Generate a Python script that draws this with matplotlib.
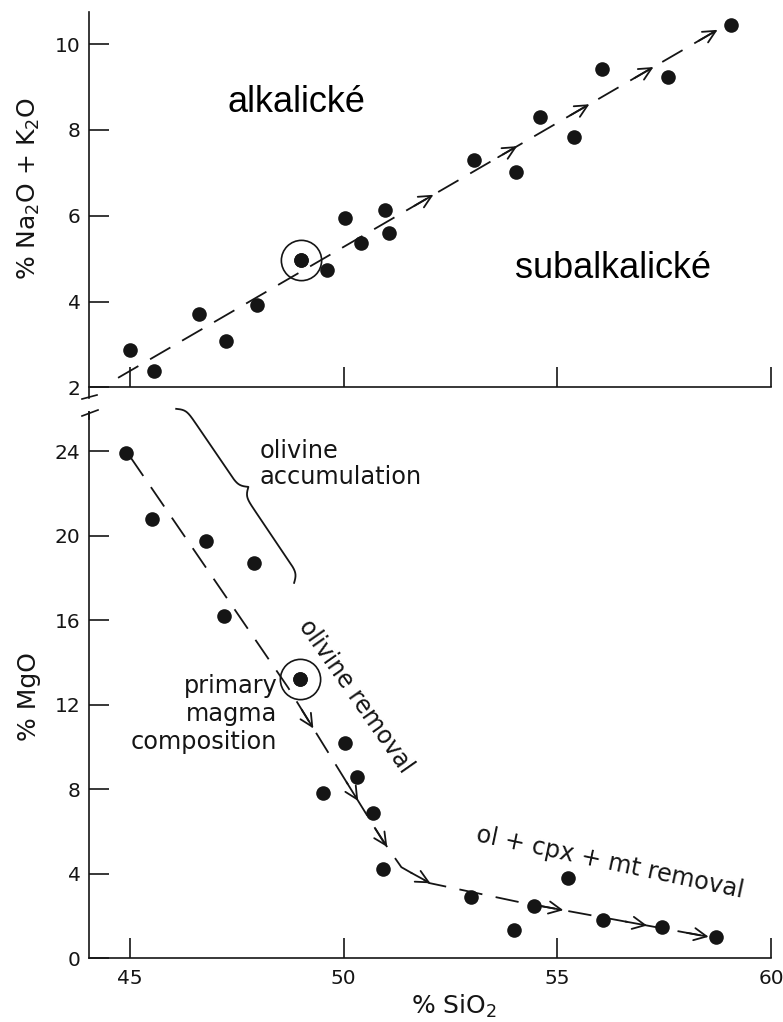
import numpy as np
import matplotlib
matplotlib.use('Agg')
import matplotlib.pyplot as plt
from matplotlib.lines import Line2D

# --- samples: SiO2 vs alkalis (upper) and SiO2 vs MgO (lower) ---
sio2_top = [45.0, 45.55, 46.62, 47.25, 47.97, 49.0, 49.62, 50.02, 50.41,
            50.96, 51.07, 53.04, 54.04, 54.59, 55.38, 56.05, 57.58, 59.07]
alkali = [2.86, 2.37, 3.70, 3.08, 3.93, 4.96, 4.73, 5.94, 5.37,
          6.13, 5.59, 7.30, 7.01, 8.31, 7.84, 9.41, 9.24, 10.45]

sio2_bot = [44.91, 45.52, 46.78, 47.91, 47.20, 48.97, 50.02, 50.31, 49.51,
            50.68, 50.93, 52.98, 54.45, 53.98, 55.26, 56.07, 57.45, 58.72]
mgo = [23.9, 20.8, 19.73, 18.7, 16.18, 13.22, 10.2, 8.56, 7.8,
       6.86, 4.2, 2.9, 2.46, 1.33, 3.78, 1.8, 1.45, 0.98]

# primary magma sample (circled in both panels)
primary_top = (49.0, 4.96)
primary_bot = (48.97, 13.22)

# differentiation trends and where the arrowheads sit
trend_top_x = [44.72, 58.95]
trend_top_y = [2.22, 10.45]
arrows_top_x = [52.1, 54.06, 55.75, 57.25, 58.75]

trend_bot_x = [45.0, 48.7, 50.9, 51.35, 52.0, 54.1, 58.55]
trend_bot_y = [23.74, 12.8, 5.6, 4.3, 3.55, 2.65, 1.0]
arrows_bot_x = [49.29, 50.34, 51.02, 52.03, 55.14, 57.1, 58.54]

ink = '#151515'
scan_font = 'DejaVu Sans'
plt.rcParams['font.family'] = scan_font
plt.rcParams['mathtext.fontset'] = 'custom'
plt.rcParams['mathtext.rm'] = scan_font

W, H = 783, 1022
fig = plt.figure(figsize=(W / 100, H / 100), dpi=100)
fig.patch.set_facecolor('white')

left = 89 / W
width = (771 - 89) / W
ax1 = fig.add_axes([left, (H - 398) / H, width, 386 / H])
ax2 = fig.add_axes([left, (H - 958) / H, width, 546 / H])

for ax in (ax1, ax2):
    ax.set_xlim(44.04, 60.0)
    for s in ('top', 'right'):
        ax.spines[s].set_visible(False)
    for s in ('left', 'bottom'):
        ax.spines[s].set_linewidth(1.2)
        ax.spines[s].set_color(ink)
    ax.set_xticks([45, 50, 55, 60])
    ax.tick_params(direction='in', length=14.5, width=1.2, color=ink,
                   labelsize=14.5, labelcolor=ink)
    ax.tick_params(axis='y', pad=6)
    ax.tick_params(axis='x', pad=8)

ax1.set_ylim(1.75, 10.75)
ax1.spines['bottom'].set_position(('data', 2))
ax1.set_yticks([2, 4, 6, 8, 10])
ax1.tick_params(axis='x', labelbottom=False)

ax2.set_ylim(0, 25.85)
ax2.set_yticks([0, 4, 8, 12, 16, 20, 24])


def add_arrows(ax, px, py, tips_x, shaft=22):
    # arrowheads placed along the trend, measured in screen pixels
    xs = np.linspace(px[0], px[-1], 3000)
    ys = np.interp(xs, px, py)
    disp = ax.transData.transform(np.column_stack([xs, ys]))
    seg = np.hypot(*np.diff(disp, axis=0).T)
    s = np.concatenate([[0], np.cumsum(seg)])
    inv = ax.transData.inverted()
    for tx in tips_x:
        st = np.interp(tx, xs, s)
        tip = [np.interp(st, s, disp[:, 0]), np.interp(st, s, disp[:, 1])]
        tail = [np.interp(st - shaft, s, disp[:, 0]),
                np.interp(st - shaft, s, disp[:, 1])]
        tip_d, tail_d = inv.transform([tip, tail])
        ax.annotate('', xy=tip_d, xytext=tail_d, annotation_clip=False,
                    arrowprops=dict(arrowstyle='->,head_length=0.45,head_width=0.22',
                                    lw=1.3, color=ink, shrinkA=0, shrinkB=0,
                                    mutation_scale=20))


def add_brace(ax, p0, p1, amp=16, beta=0.3):
    d0, d1 = ax.transData.transform([p0, p1])
    vec = d1 - d0
    L = np.hypot(*vec)
    u = vec / L
    n = np.array([-u[1], u[0]])
    t = np.linspace(0, L / 2, 200)
    h = 1 / (1 + np.exp(-beta * (t - t[0]))) + 1 / (1 + np.exp(-beta * (t - t[-1])))
    h = np.concatenate([h, h[::-1]]) - 0.5
    tt = np.concatenate([t, L - t[::-1]])
    pts = d0 + np.outer(tt, u) + np.outer(h * amp, n)
    data = ax.transData.inverted().transform(pts)
    ax.plot(data[:, 0], data[:, 1], color=ink, lw=1.3, clip_on=False)


dash = (0, (13, 7.5))

# upper panel: total alkalis
ax1.plot(trend_top_x, trend_top_y, ls=dash, lw=1.3, color=ink)
add_arrows(ax1, trend_top_x, trend_top_y, arrows_top_x)
ax1.plot(sio2_top, alkali, 'o', ms=10.5, color=ink, mec='none')
ax1.plot(*primary_top, 'o', ms=29, mfc='white', mec=ink, mew=1.2, zorder=1.5)
ax1.plot(*primary_top, 'o', ms=10.5, color=ink, mec='none', zorder=3)
ax1.text(48.89, 8.42, 'alkalické', fontsize=26, family='Liberation Sans',
         ha='center', va='baseline', color='black')
ax1.text(56.31, 4.54, 'subalkalické', fontsize=26, family='Liberation Sans',
         ha='center', va='baseline', color='black')

# lower panel: MgO
ax2.plot(trend_bot_x, trend_bot_y, ls=dash, lw=1.3, color=ink)
add_arrows(ax2, trend_bot_x, trend_bot_y, arrows_bot_x)
ax2.plot(sio2_bot, mgo, 'o', ms=10.5, color=ink, mec='none')
ax2.plot(*primary_bot, 'o', ms=29, mfc='white', mec=ink, mew=1.2, zorder=1.5)
ax2.plot(*primary_bot, 'o', ms=10.5, color=ink, mec='none', zorder=3)

add_brace(ax2, (46.08, 26.0), (48.84, 17.76))
ax2.text(48.04, 23.4, 'olivine\naccumulation', fontsize=17.3, color=ink,
         ha='left', va='center', linespacing=1.12)
ax2.text(48.45, 11.55, 'primary\nmagma\ncomposition', fontsize=17.3, color=ink,
         ha='right', va='center', multialignment='right', linespacing=1.2)
ax2.text(50.29, 12.4, 'olivine removal', fontsize=17, color=ink,
         rotation=-55, rotation_mode='anchor', ha='center', va='center')
ax2.text(56.22, 4.5, 'ol + cpx + mt removal', fontsize=17.3, color=ink,
         rotation=-12, rotation_mode='anchor', ha='center', va='center')

# axis titles
fig.text(29 / W, 1 - 188 / H, '% Na$_2$O + K$_2$O', rotation=90, fontsize=18,
         ha='center', va='center', color=ink)
fig.text(29 / W, 1 - 697 / H, '% MgO', rotation=90, fontsize=18,
         ha='center', va='center', color=ink)
fig.text(454 / W, 1 - 1006 / H, '% SiO$_2$', fontsize=18,
         ha='center', va='center', color=ink)

# axis break marks between the panels
for (x0, y0, x1, y1) in [(82, 399, 97, 395), (82, 416, 98, 410)]:
    fig.add_artist(Line2D([x0 / W, x1 / W], [1 - y0 / H, 1 - y1 / H],
                          transform=fig.transFigure, color=ink, lw=1.2))
fig.add_artist(Line2D([89 / W, 89 / W], [1 - 419 / H, 1 - 412 / H],
                      transform=fig.transFigure, color=ink, lw=1.2))

fig.savefig('out.png', dpi=100)
